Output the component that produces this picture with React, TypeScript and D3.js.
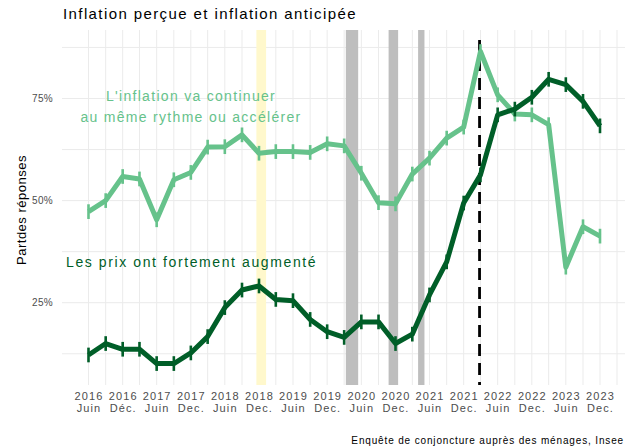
import React from 'react';
import * as d3 from 'd3';

// trimestres observés (juin 2016 -> déc. 2023)
const periods = [
  '2016-06', '2016-09', '2016-12', '2017-03', '2017-06', '2017-09', '2017-12', '2018-03',
  '2018-06', '2018-09', '2018-12', '2019-03', '2019-06', '2019-09', '2019-12', '2020-03',
  '2020-06', '2020-09', '2020-12', '2021-03', '2021-06', '2021-09', '2021-12', '2022-03',
  '2022-06', '2022-09', '2022-12', '2023-03', '2023-06', '2023-09', '2023-12'
];

// "L'inflation va continuer au même rythme ou accélérer" (%)
const anticipee = [
  47.3, 50.0, 55.9, 55.3, 45.3, 55.1, 56.9, 63.1, 63.2, 66.1, 61.6, 62.0, 62.0, 61.8, 63.9, 63.4,
  56.7, 49.5, 49.2, 56.5, 60.4, 65.3, 68.0, 86.5, 75.9, 71.2, 71.0, 68.6, 33.7, 43.6, 41.3
];

// "Les prix ont fortement augmenté" (%)
const percue = [
  12.2, 15.0, 13.6, 13.6, 10.1, 10.1, 12.7, 16.7, 23.8, 28.1, 29.1, 25.8, 25.5, 20.9, 17.9, 16.5,
  20.3, 20.3, 15.0, 17.3, 26.9, 35.0, 49.4, 56.3, 71.0, 72.4, 75.3, 79.7, 78.4, 74.3, 68.3
];

const errHalf = 1.8;

const tickYears = ['2016', '2016', '2017', '2017', '2018', '2018', '2019', '2019',
  '2020', '2020', '2021', '2021', '2022', '2022', '2023', '2023'];
const tickMonths = ['Juin', 'Déc.', 'Juin', 'Dec.', 'Juin', 'Dec.', 'Juin', 'Dec.',
  'Juin', 'Dec.', 'Juin', 'Dec.', 'Juin', 'Dec.', 'Juin', 'Dec.'];
const tickDates = ['2016-06', '2016-12', '2017-06', '2017-12', '2018-06', '2018-12', '2019-06', '2019-12',
  '2020-06', '2020-12', '2021-06', '2021-12', '2022-06', '2022-12', '2023-06', '2023-12'];

const yTicks = [25, 50, 75];
const yGrid = [12.5, 25, 37.5, 50, 62.5, 75, 87.5];

// confinements et gilets jaunes
const confinements = [['2020-03-10', '2020-05-15'], ['2020-10-25', '2020-12-15'], ['2021-04-01', '2021-05-05']];
const giletsJaunes = ['2018-11-17', '2019-01-08'];
const invasion = '2022-02-24';

const parseM = d3.timeParse('%Y-%m');
const parseD = d3.timeParse('%Y-%m-%d');

const LIGHT = '#66c28b';
const DARK = '#005e28';
const FONT = '"Liberation Sans", Arial, sans-serif';

export default function App() {
  const width = 627;
  const height = 447;
  const left = 62, right = 625, top = 30, bottom = 385;

  const x = d3.scaleTime()
    .domain([parseM('2016-06'), parseM('2023-12')])
    .range([88.5, 600]);
  const y = d3.scaleLinear().domain([25, 75]).range([302.7, 98.5]);

  const grid = d3.timeMonth.range(parseM('2016-06'), parseM('2024-04'), 3);

  const line = d3.line<number>()
    .x((d, i) => x(parseM(periods[i])))
    .y((d) => y(d));

  const series = [
    { values: anticipee, color: LIGHT },
    { values: percue, color: DARK }
  ];

  return (
    <svg width={width} height={height} style={{ position: 'absolute', left: 0, top: 0, background: '#fff' }}
      fontFamily={FONT}>
      <rect width={width} height={height} fill="#fff" />
      {yGrid.map((v) => (
        <line key={v} x1={left} x2={right} y1={y(v)} y2={y(v)} stroke="#ebebeb" strokeWidth={1} />
      ))}
      {grid.map((d, i) => (
        <line key={i} x1={x(d)} x2={x(d)} y1={top} y2={bottom} stroke="#ebebeb" strokeWidth={1} />
      ))}

      <rect x={x(parseD(giletsJaunes[0]))} y={top} width={x(parseD(giletsJaunes[1])) - x(parseD(giletsJaunes[0]))}
        height={bottom - top} fill="#fff8cc" />
      {confinements.map(([a, b], i) => (
        <rect key={i} x={x(parseD(a))} y={top} width={x(parseD(b)) - x(parseD(a))}
          height={bottom - top} fill="#bebebe" />
      ))}

      <line x1={x(parseD(invasion))} x2={x(parseD(invasion))} y1={40} y2={bottom}
        stroke="#000" strokeWidth={2.8} strokeDasharray="12,7" />

      {series.map((s, k) => (
        <g key={k}>
          <path d={line(s.values) || ''} fill="none" stroke={s.color} strokeWidth={5} strokeLinejoin="round" />
          {s.values.map((v, i) => (
            <line key={i} x1={x(parseM(periods[i]))} x2={x(parseM(periods[i]))}
              y1={y(v - errHalf)} y2={y(v + errHalf)} stroke={s.color} strokeWidth={2.6} />
          ))}
        </g>
      ))}

      {yTicks.map((v) => (
        <text key={v} x={53} y={y(v) + 3.5} textAnchor="end" fontSize={10} fill="#4d4d4d" letterSpacing={0.3}>
          {v}%
        </text>
      ))}
      {tickDates.map((d, i) => (
        <text key={i} x={x(parseM(d))} textAnchor="middle" fontSize={11} fill="#4d4d4d" letterSpacing={1.1}>
          <tspan x={x(parseM(d)) + 0.5} y={400}>{tickYears[i]}</tspan>
          <tspan x={x(parseM(d)) + 0.5} y={412}>{tickMonths[i]}</tspan>
        </text>
      ))}

      <text transform="translate(26,210) rotate(-90)" textAnchor="middle" fontSize={13} fill="#000" letterSpacing={0.5}>
        Partdes réponses
      </text>

      <text x={63} y={19} fontSize={15} fill="#000" letterSpacing={1.4}>
        Inflation perçue et inflation anticipée
      </text>

      <text x={191} y={101} textAnchor="middle" fontSize={14} fill={LIGHT} letterSpacing={1.3}>
        L'inflation va continuer
      </text>
      <text x={191} y={122} textAnchor="middle" fontSize={14} fill={LIGHT} letterSpacing={1.3}>
        au même rythme ou accélérer
      </text>
      <text x={66} y={267} fontSize={14} fill={DARK} letterSpacing={1.6}>
        Les prix ont fortement augmenté
      </text>

      <text x={624} y={444} textAnchor="end" fontSize={10} fill="#000" letterSpacing={0.85}>
        Enquête de conjoncture auprès des ménages, Insee
      </text>
    </svg>
  );
}
